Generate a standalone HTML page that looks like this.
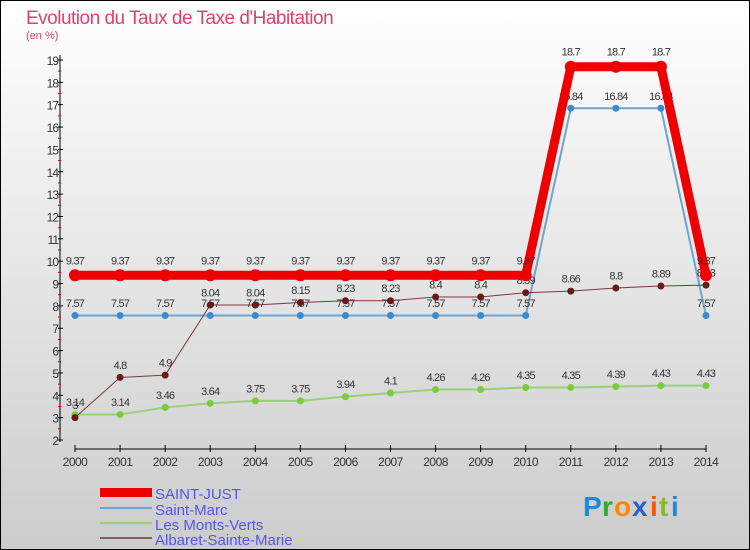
<!DOCTYPE html>
<html><head><meta charset="utf-8"><style>
body{margin:0}
#c{position:relative;width:750px;height:550px;overflow:hidden;font-family:"Liberation Sans",sans-serif}
svg text{font-family:"Liberation Sans",sans-serif}
</style></head><body>
<div id="c">
<svg id="s" width="750" height="550" xmlns="http://www.w3.org/2000/svg">
<defs><linearGradient id="bg" x1="0" y1="0" x2="0" y2="1"><stop offset="0" stop-color="#ffffff"/><stop offset="1" stop-color="#cccccc"/></linearGradient></defs>
<rect x="0.5" y="0.5" width="749" height="549" fill="url(#bg)" stroke="#000"/>
<text x="26" y="24" font-size="19" fill="#e04070" letter-spacing="-0.5">Evolution du Taux de Taxe d'Habitation</text>
<text x="26" y="39" font-size="11" fill="#e04070">(en %)</text>
<g id="axes"></g><g id="series"></g>
<g>
<rect x="100" y="488" width="52" height="9" fill="#ee0000"/>
<text x="155" y="499" font-size="15" fill="#5555ee">SAINT-JUST</text>
<line x1="100" y1="508" x2="152" y2="508" stroke="#6fa4cf" stroke-width="2"/>
<text x="155" y="515" font-size="15" fill="#5555ee">Saint-Marc</text>
<line x1="100" y1="523" x2="152" y2="523" stroke="#99d177" stroke-width="2"/>
<text x="155" y="530" font-size="15" fill="#5555ee">Les Monts-Verts</text>
<line x1="100" y1="538" x2="152" y2="538" stroke="#8c5a5a" stroke-width="2"/>
<text x="155" y="545" font-size="15" fill="#5555ee">Albaret-Sainte-Marie</text>
</g>
<g font-size="28" font-weight="bold">
<text x="583" y="516" fill="#2288dd">P</text><text x="602" y="516" fill="#33aa33">r</text><text x="614" y="516" fill="#ff8800">o</text><text x="632" y="516" fill="#2266cc">x</text><text x="650" y="516" fill="#ff5500">i</text><text x="659" y="516" fill="#88bb22">t</text><text x="671" y="516" fill="#2288dd">i</text>
</g>
</svg>
</div>
<script>
const years=[2000,2001,2002,2003,2004,2005,2006,2007,2008,2009,2010,2011,2012,2013,2014];
const yTicks=[2,3,4,5,6,7,8,9,10,11,12,13,14,15,16,17,18,19];
const saintJust=[9.37,9.37,9.37,9.37,9.37,9.37,9.37,9.37,9.37,9.37,9.37,18.7,18.7,18.7,9.37];
const saintMarc=[7.57,7.57,7.57,7.57,7.57,7.57,7.57,7.57,7.57,7.57,7.57,16.84,16.84,16.84,7.57];
const montsVerts=[3.14,3.14,3.46,3.64,3.75,3.75,3.94,4.1,4.26,4.26,4.35,4.35,4.39,4.43,4.43];
const albaret=[3,4.8,4.9,8.04,8.04,8.15,8.23,8.23,8.4,8.4,8.59,8.66,8.8,8.89,8.93];
const NS="http://www.w3.org/2000/svg";
const X=i=>75+i*(706-75)/(years.length-1);
const Y=v=>440-(v-2)*(380/17);
function mk(p,t,a){const e=document.createElementNS(NS,t);for(const k in a)e.setAttribute(k,a[k]);p.appendChild(e);return e;}
const ax=document.getElementById('axes');
const yl=mk(ax,'line',{x1:60,y1:55,x2:60,y2:442,stroke:'#000'});


yTicks.forEach(v=>{
 mk(ax,'line',{x1:58,y1:Y(v),x2:63,y2:Y(v),stroke:'#000'});
 if(v<19)mk(ax,'line',{x1:58,y1:Y(v+0.5),x2:61,y2:Y(v+0.5),stroke:'#e00'});
 const t=mk(ax,'text',{x:58,y:Y(v)+5,'text-anchor':'end','font-size':12,fill:'#333','letter-spacing':'-1'});
 t.textContent=v;
 
 
});
const xl=mk(ax,'line',{x1:75,y1:449,x2:706,y2:449,stroke:'#000'});


years.forEach((y,i)=>{
 mk(ax,'line',{x1:X(i),y1:445,x2:X(i),y2:452,stroke:'#000'});
 const t=mk(ax,'text',{x:X(i),y:466,'text-anchor':'middle','font-size':12,fill:'#333','letter-spacing':'-0.5'});
 t.textContent=y;
 
 
});
const sg=document.getElementById('series');
function series(vals,name,col,w,r,dot,labels){
 const g=mk(sg,'g',{});
 
 
 mk(g,'polyline',{points:vals.map((v,i)=>X(i)+','+Y(v)).join(' '),fill:'none',stroke:col,'stroke-width':w,'stroke-linejoin':'round'});
 vals.forEach((v,i)=>{
  const c=mk(g,'circle',{cx:X(i),cy:Y(v),r:r,fill:dot});
  
  
  const t=mk(g,'text',{x:X(i),y:Y(v)-(r+5),'text-anchor':'middle','font-size':11,fill:'#333','letter-spacing':'-0.8'});
  t.textContent=labels?labels[i]:v;
  
  
 });
}
series(montsVerts,'series-les-monts-verts','#99d177',2,3.5,'#7acc3a');
series(saintMarc,'series-saint-marc','#6fa4cf',2,3.5,'#3a8ad0');
series(albaret,'series-albaret-sainte-marie','#7a3a3a',1,3.5,'#6a1a1a');
series(saintJust,'series-saint-just','#ee0000',9,6,'#ee0000');
</script>
</body></html>
